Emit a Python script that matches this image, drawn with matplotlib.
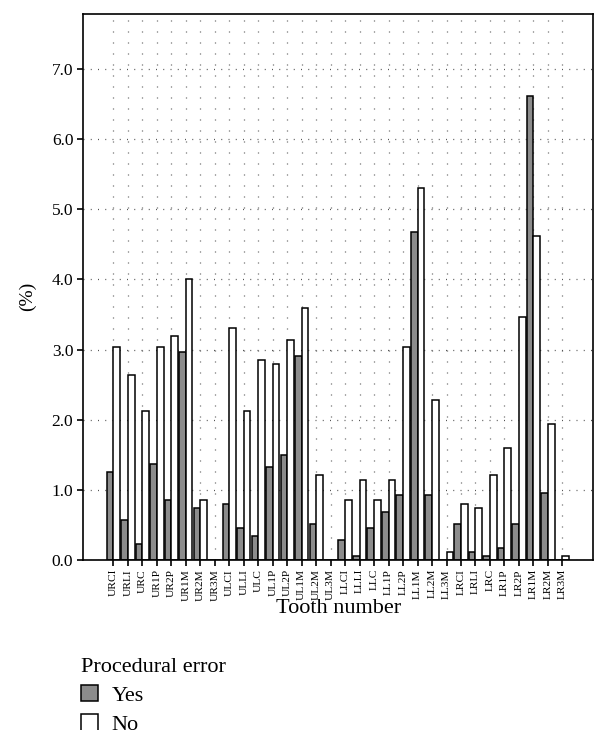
import numpy as np
import matplotlib.pyplot as plt
from matplotlib.patches import Patch, Rectangle

plt.rcParams['font.family'] = ['Liberation Serif', 'DejaVu Serif']

# tooth labels, grouped by quadrant
teeth = ['URCI', 'URLI', 'URC', 'UR1P', 'UR2P', 'UR1M', 'UR2M', 'UR3M',
         'ULCI', 'ULLI', 'ULC', 'UL1P', 'UL2P', 'UL1M', 'UL2M', 'UL3M',
         'LLCI', 'LLLI', 'LLC', 'LL1P', 'LL2P', 'LL1M', 'LL2M', 'LL3M',
         'LRCI', 'LRLI', 'LRC', 'LR1P', 'LR2P', 'LR1M', 'LR2M', 'LR3M']

# procedural error = yes (%)
yes_pct = [1.26, 0.57, 0.23, 1.37, 0.85, 2.97, 0.74, 0.0,
           0.80, 0.45, 0.34, 1.32, 1.49, 2.91, 0.52, 0.0,
           0.28, 0.06, 0.45, 0.68, 0.92, 4.67, 0.92, 0.0,
           0.51, 0.12, 0.06, 0.17, 0.51, 6.61, 0.96, 0.0]

# procedural error = no (%)
no_pct = [3.03, 2.63, 2.12, 3.03, 3.19, 4.00, 0.86, 0.0,
          3.30, 2.12, 2.85, 2.79, 3.14, 3.59, 1.21, 0.0,
          0.86, 1.14, 0.86, 1.14, 3.03, 5.30, 2.28, 0.12,
          0.80, 0.74, 1.21, 1.60, 3.47, 4.62, 1.94, 0.06]

x = np.arange(len(teeth))
w = 0.46

fig = plt.figure(figsize=(6.08, 7.44), dpi=100)
ax = fig.add_axes([0.1365, 0.2473, 0.8385, 0.7337])

# dotted grid
for xi in x:
    ax.plot([xi, xi], [0, 7.78], color='#555555', lw=0.9, ls=(0, (0.8, 8)), zorder=0)
ax.yaxis.grid(True, color='#555555', lw=0.9, ls=(0, (0.8, 5)), zorder=0)
ax.set_axisbelow(True)

ax.bar(x - w / 2, yes_pct, w, color='#8c8c8c', edgecolor='black', lw=1.1, zorder=2)
ax.bar(x + w / 2, no_pct, w, color='white', edgecolor='black', lw=1.1, zorder=2)

ax.set_xlim(-2.1, 33.1)
ax.set_ylim(0, 7.78)
ax.set_yticks(np.arange(0, 8, 1.0))
ax.set_yticklabels(['%.1f' % v for v in np.arange(0, 8, 1.0)], fontsize=12.5)
ax.set_xticks(x)
ax.set_xticklabels(teeth, rotation=90, fontsize=8.2)
ax.tick_params(axis='both', direction='out', length=4, width=1.2, pad=3)
ax.tick_params(axis='x', pad=2.5)
for s in ax.spines.values():
    s.set_linewidth(1.2)

fig.text(0.046, 0.602, '(%)', rotation=90, fontsize=14, ha='center', va='center')
fig.text(0.557, 0.182, 'Tooth number', fontsize=16, ha='center', va='center')

handles = [Patch(facecolor='#8c8c8c', edgecolor='black', lw=1.1),
           Patch(facecolor='white', edgecolor='black', lw=1.1)]
leg = fig.legend(handles, ['Yes', 'No'], title='Procedural error', loc='upper left',
                 bbox_to_anchor=(0.134, 0.116), frameon=False, fontsize=16,
                 title_fontsize=16, handlelength=0.75, handleheight=0.75,
                 handletextpad=0.6, labelspacing=0.38, alignment='left',
                 borderpad=0, borderaxespad=0)

# the source image cuts off the lower part of the last legend swatch
fig.patches.append(Rectangle((0, 0), 105 / 608, 14 / 744, transform=fig.transFigure,
                             facecolor='white', edgecolor='none', zorder=10))

fig.savefig('out.png', dpi=100)
